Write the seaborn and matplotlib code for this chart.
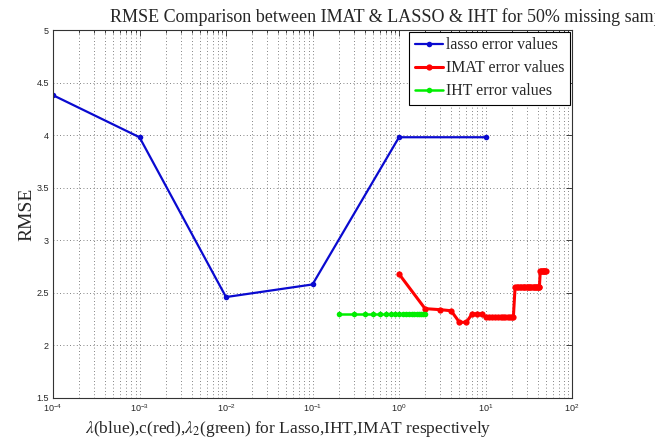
import numpy as np
import pandas as pd
import matplotlib
matplotlib.use('Agg')
import matplotlib.pyplot as plt
import seaborn as sns
from matplotlib.ticker import LogLocator, NullFormatter

sns.set_style('white')
plt.rcParams['font.family'] = ['Liberation Serif', 'DejaVu Serif']
plt.rcParams['mathtext.fontset'] = 'stix'

# lasso error values (x = lambda)
lasso_x = [1e-4, 1e-3, 1e-2, 1e-1, 1, 10]
lasso_y = [4.38, 3.98, 2.46, 2.58, 3.98, 3.98]

# IMAT error values (x = c)
imat_x = [1, 2, 3, 4, 5, 6, 7, 8, 9, 10, 11, 12, 13, 14, 15, 16, 17, 18, 19, 20, 21,
          22, 23, 24, 25, 26, 27, 28, 29, 30, 31, 32, 33, 34, 35, 36, 37, 38, 39, 40, 41, 42,
          43, 44, 45, 46, 47, 48, 49, 50]
imat_y = [2.68, 2.35, 2.34, 2.33, 2.22, 2.22, 2.30, 2.30, 2.30, 2.27, 2.27, 2.27, 2.27,
          2.27, 2.27, 2.27, 2.27, 2.27, 2.27, 2.27, 2.27,
          2.56, 2.56, 2.56, 2.56, 2.56, 2.56, 2.56, 2.56, 2.56, 2.56, 2.56, 2.56, 2.56, 2.56,
          2.56, 2.56, 2.56, 2.56, 2.56, 2.56, 2.56,
          2.71, 2.71, 2.71, 2.71, 2.71, 2.71, 2.71, 2.71]

# IHT error values (x = lambda_2)
iht_x = [0.2, 0.3, 0.4, 0.5, 0.6, 0.7, 0.8, 0.9, 1.0, 1.1, 1.2, 1.3, 1.4, 1.5, 1.6, 1.7,
         1.8, 1.9, 2.0]
iht_y = [2.3] * len(iht_x)

x_ticks = [1e-4, 1e-3, 1e-2, 1e-1, 1, 10, 100]
y_ticks = [1.5, 2, 2.5, 3, 3.5, 4, 4.5, 5]

fig = plt.figure(figsize=(6.55, 4.41), dpi=100)
ax = fig.add_axes([53 / 655, 1 - 398 / 441, (572 - 53) / 655, (398 - 30) / 441])
ax.set_xscale('log')

grid_kw = dict(color='0.35', linestyle=(0, (1, 3)), linewidth=0.6)
ax.grid(True, which='major', axis='both', **grid_kw)
ax.grid(True, which='minor', axis='x', **grid_kw)
ax.set_axisbelow(True)

sns.lineplot(x=lasso_x, y=lasso_y, ax=ax, color='#0a0ad0', marker='o', markersize=4,
             markeredgewidth=0, linewidth=1.6, label='lasso error values', sort=False)
sns.lineplot(x=imat_x, y=imat_y, ax=ax, color='#ff0000', marker='o', markersize=4.5,
             markeredgewidth=0, linewidth=2.2, label='IMAT error values', sort=False)
sns.lineplot(x=iht_x, y=iht_y, ax=ax, color='#00ee00', marker='o', markersize=4,
             markeredgewidth=0, linewidth=1.8, label='IHT error values', sort=False)

ax.set_xlim(1e-4, 1e2)
ax.set_ylim(1.5, 5)
ax.set_yticks(y_ticks)
ax.set_yticklabels([f'{v:g}' for v in y_ticks], family='Liberation Sans', fontsize=6.5)
ax.set_xticks(x_ticks)
minor = [m * d for d in x_ticks[:-1] for m in range(2, 10)]
ax.set_xticks(minor, minor=True)
ax.xaxis.set_minor_formatter(NullFormatter())
ax.tick_params(axis='x', which='major', labelsize=6.5, direction='in', length=4, top=True,
               width=0.6, pad=3)
ax.tick_params(axis='x', which='minor', direction='in', length=2.5, top=True, width=0.6)
ax.tick_params(axis='y', which='major', labelsize=6.5, direction='in', length=4, right=True,
               width=0.6, pad=3)
plt.setp(ax.get_xticklabels(), family='Liberation Sans')

for sp in ax.spines.values():
    sp.set_color('0.2')
    sp.set_linewidth(0.8)

ax.set_xlabel(r'$\lambda$(blue),c(red),$\lambda_2$(green) for Lasso,IHT,IMAT respectively',
              fontsize=12.5, labelpad=4, x=(288 - 53) / (572 - 53))
ax.set_ylabel('RMSE', fontsize=14, labelpad=1)

fig.text(110 / 655, 1 - 22 / 441,
         'RMSE Comparison between IMAT & LASSO & IHT for 50% missing samples',
         fontsize=12.95, ha='left', va='baseline')

leg = ax.legend(loc='upper right', fontsize=11.4, frameon=True, fancybox=False, framealpha=1,
                edgecolor='black', borderaxespad=0.1, handlelength=1.8, handletextpad=0.2,
                labelspacing=0.45, borderpad=0.35)
leg.get_frame().set_linewidth(0.8)

fig.savefig('out.png', dpi=100)
